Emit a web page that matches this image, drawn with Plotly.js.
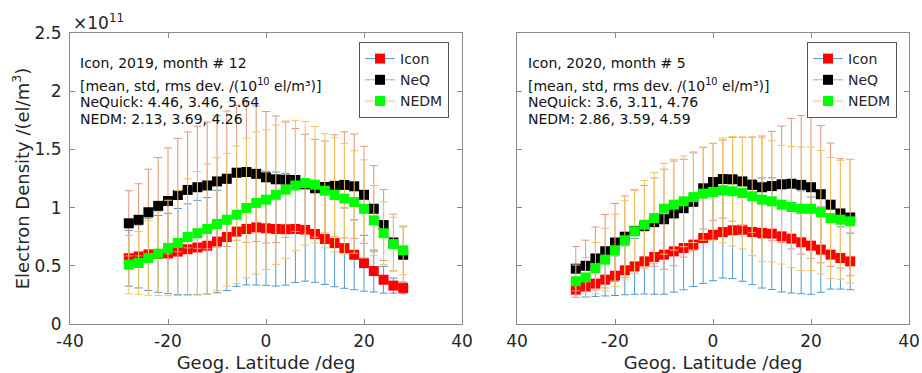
<!DOCTYPE html>
<html>
<head>
<meta charset="utf-8">
<script src="https://cdn.plot.ly/plotly-3.0.1.min.js"></script>
<style>html,body{margin:0;padding:0;background:#fff;}#chart{width:922px;height:373px;}</style>
</head>
<body>
<div id="chart"></div>
<script>
// Latitude bins (deg)
const lat = [-28,-26,-24,-22,-20,-18,-16,-14,-12,-10,-8,-6,-4,-2,0,2,4,6,8,10,12,14,16,18,20,22,24,26,28];

// Panel 1: Icon, 2019, month # 12  (values in 1e11 el/m^3)
const icon2019 = [0.565,0.58,0.598,0.602,0.606,0.622,0.642,0.657,0.672,0.708,0.747,0.794,0.816,0.83,0.822,0.816,0.814,0.816,0.808,0.773,0.73,0.695,0.652,0.595,0.522,0.455,0.38,0.33,0.31];
const iconStd2019 = [0.24,0.27,0.31,0.33,0.345,0.37,0.39,0.405,0.415,0.44,0.46,0.47,0.48,0.495,0.49,0.49,0.48,0.46,0.44,0.415,0.39,0.375,0.345,0.30,0.24,0.18,0.115,0.065,0.05];
const neq2019 = [0.865,0.895,0.96,1.015,1.057,1.108,1.152,1.175,1.19,1.225,1.248,1.30,1.306,1.29,1.26,1.243,1.24,1.237,1.20,1.166,1.177,1.187,1.195,1.183,1.11,0.99,0.85,0.70,0.595];
const neqStd2019 = [0.28,0.31,0.37,0.415,0.455,0.487,0.498,0.525,0.545,0.565,0.582,0.58,0.604,0.582,0.565,0.544,0.495,0.442,0.43,0.42,0.395,0.439,0.456,0.449,0.417,0.37,0.304,0.244,0.24];
const nedm2019 = [0.51,0.524,0.567,0.604,0.653,0.696,0.747,0.78,0.816,0.859,0.896,0.939,0.997,1.04,1.068,1.11,1.154,1.19,1.21,1.197,1.145,1.11,1.077,1.048,0.99,0.89,0.78,0.687,0.633];
const nedmStd2019 = [0.25,0.27,0.32,0.36,0.41,0.45,0.50,0.53,0.56,0.57,0.57,0.59,0.60,0.61,0.60,0.60,0.59,0.56,0.53,0.50,0.49,0.49,0.475,0.44,0.42,0.30,0.27,0.23,0.21];

// Panel 2: Icon, 2020, month # 5
const icon2020 = [0.295,0.318,0.347,0.381,0.415,0.461,0.495,0.538,0.576,0.596,0.624,0.653,0.682,0.739,0.767,0.79,0.805,0.81,0.79,0.782,0.776,0.753,0.733,0.702,0.673,0.639,0.596,0.567,0.538];
const iconStd2020 = [0.066,0.086,0.11,0.14,0.17,0.21,0.24,0.28,0.32,0.34,0.35,0.36,0.36,0.39,0.395,0.395,0.415,0.443,0.452,0.473,0.48,0.478,0.467,0.442,0.418,0.367,0.296,0.267,0.243];
const neq2020 = [0.475,0.50,0.563,0.625,0.70,0.75,0.80,0.84,0.875,0.90,0.95,0.995,1.05,1.166,1.22,1.245,1.243,1.225,1.195,1.175,1.185,1.20,1.205,1.195,1.175,1.115,1.025,0.95,0.915];
const neqStd2020 = [0.19,0.22,0.27,0.315,0.335,0.35,0.35,0.35,0.38,0.43,0.45,0.42,0.42,0.35,0.33,0.335,0.36,0.38,0.41,0.44,0.47,0.50,0.56,0.595,0.61,0.59,0.53,0.47,0.50];
const nedm2020 = [0.367,0.40,0.48,0.553,0.633,0.719,0.796,0.853,0.91,0.99,1.025,1.054,1.09,1.12,1.134,1.148,1.14,1.125,1.097,1.068,1.054,1.025,1.005,0.99,0.99,0.96,0.91,0.896,0.882];
const nedmStd2020 = [0.14,0.17,0.22,0.27,0.31,0.34,0.36,0.38,0.39,0.39,0.39,0.39,0.39,0.40,0.42,0.45,0.47,0.48,0.51,0.53,0.52,0.51,0.52,0.53,0.53,0.53,0.52,0.51,0.53];

const seriesNames = ['Icon','NeQ','NEDM'];
const barColors = ['#4f97d0','#e0967c','#f1c464'];
const markerColors = ['#ff0000','#000000','#00ff00'];

const xTickVals = [-40,-20,0,20,40];
const xTickTextLeft = ['-40','-20','0','20','40'];
const xTickTextRight = ['40','-20','0','20','40'];
const yTickVals = [0,0.5,1,1.5,2,2.5];
const yTickText = ['0','0.5','1','1.5','2','2.5'];

const panelText1 = ['Icon, 2019, month # 12','[mean, std, rms dev. /(10<sup>10</sup> el/m³)]','NeQuick: 4.46, 3.46, 5.64','NEDM: 2.13, 3.69, 4.26'];
const panelText2 = ['Icon, 2020, month # 5','[mean, std, rms dev. /(10<sup>10</sup> el/m³)]','NeQuick: 3.6, 3.11, 4.76','NEDM: 2.86, 3.59, 4.59'];

function mk(i, y, s, xa, ya, leg) {
  return {
    type: 'scatter', mode: 'lines+markers', name: seriesNames[i],
    x: lat, y: y, xaxis: xa, yaxis: ya, legend: leg,
    line: {color: barColors[i], width: 1},
    marker: {symbol: 'square', size: 10, color: markerColors[i], line: {width: 0}},
    error_y: {type: 'data', array: s, visible: true, color: barColors[i], thickness: 1, width: 4}
  };
}

const data = [
  mk(0, icon2019, iconStd2019, 'x', 'y', 'legend'),
  mk(1, neq2019, neqStd2019, 'x', 'y', 'legend'),
  mk(2, nedm2019, nedmStd2019, 'x', 'y', 'legend'),
  mk(0, icon2020, iconStd2020, 'x2', 'y2', 'legend2'),
  mk(1, neq2020, neqStd2020, 'x2', 'y2', 'legend2'),
  mk(2, nedm2020, nedmStd2020, 'x2', 'y2', 'legend2')
];

const W = 922, H = 373;
const px = v => v / W, py = v => (H - v) / H;
const font = 'DejaVu Sans, sans-serif';
const axCol = '#8a8a8a';
const txtCol = '#262626';

function xaxis(dom, ttext, anchor) {
  return {
    domain: dom, range: [-40, 40], anchor: anchor,
    tickvals: xTickVals, ticktext: ttext,
    ticks: 'inside', ticklen: 5, tickcolor: axCol, tickwidth: 1,
    showline: true, linecolor: axCol, linewidth: 1, mirror: 'ticks',
    showgrid: false, zeroline: false,
    tickfont: {family: font, size: 17, color: txtCol},
    ticklabelstandoff: 2,
    title: {text: 'Geog. Latitude /deg', font: {family: font, size: 18, color: txtCol}, standoff: 5}
  };
}
function yaxis(showLabels, anchor, withTitle) {
  const a = {
    domain: [py(324), py(33)], range: [0, 2.5], anchor: anchor,
    tickvals: yTickVals, ticktext: yTickText, showticklabels: showLabels,
    ticks: 'inside', ticklen: 5, tickcolor: axCol, tickwidth: 1,
    showline: true, linecolor: axCol, linewidth: 1, mirror: 'ticks',
    showgrid: false, zeroline: false,
    tickfont: {family: font, size: 17, color: txtCol},
    ticklabelstandoff: 4
  };
  if (withTitle) a.title = {text: 'Electron Density /(el/m<sup>3</sup>)', font: {family: font, size: 18, color: txtCol}, standoff: 0};
  return a;
}

const annotations = [];
function addText(lines, x0) {
  const ys = [63, 85, 102, 119];
  lines.forEach((t, k) => annotations.push({
    xref: 'paper', yref: 'paper', x: px(x0), y: py(ys[k]), xanchor: 'left', yanchor: 'middle',
    text: t, showarrow: false, font: {family: font, size: 14, color: '#111'}
  }));
}
addText(panelText1, 78);
addText(panelText2, 526);
annotations.push({xref: 'paper', yref: 'paper', x: px(71), y: py(22), xanchor: 'left', yanchor: 'middle',
  text: '×10<sup>11</sup>', showarrow: false, font: {family: font, size: 17, color: txtCol}});

function legend(x0) {
  return {x: px(x0), y: py(42), xanchor: 'left', yanchor: 'top', xref: 'paper', yref: 'paper',
    bgcolor: '#fff', bordercolor: '#555', borderwidth: 1,
    font: {family: font, size: 14, color: txtCol}, tracegroupgap: 0, itemwidth: 30};
}

const layout = {
  width: W, height: H, margin: {l: 0, r: 0, t: 0, b: 0},
  paper_bgcolor: '#fff', plot_bgcolor: '#fff', showlegend: true,
  xaxis: xaxis([px(70), px(462)], xTickTextLeft, 'y'),
  yaxis: yaxis(true, 'x', true),
  xaxis2: xaxis([px(517), px(909)], xTickTextRight, 'y2'),
  yaxis2: yaxis(false, 'x2', false),
  legend: legend(359),
  legend2: legend(807),
  annotations: annotations
};

Plotly.newPlot('chart', data, layout, {staticPlot: true, displayModeBar: false});
</script>
</body>
</html>
